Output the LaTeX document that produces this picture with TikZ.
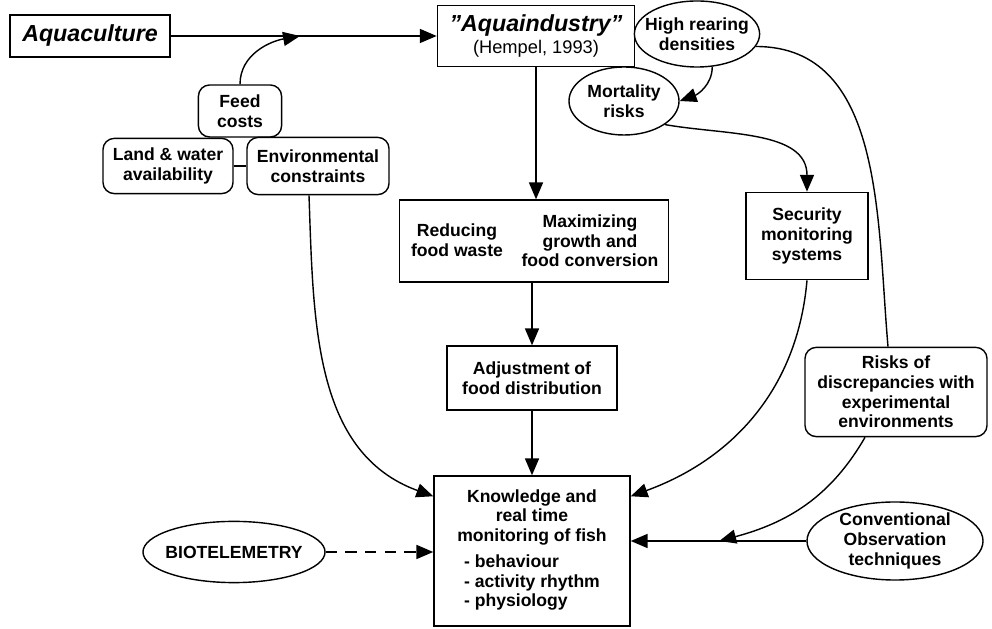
\documentclass[tikz,border=0pt]{standalone}
\usepackage{fontspec}
\setmainfont{Liberation Sans}
\usepackage{tikz}
\usetikzlibrary{arrows.meta, positioning, shapes.geometric, calc}
\newcommand{\diagfont}{\fontsize{12.5}{14}\selectfont\bfseries}
\newcommand{\titlefont}{\fontsize{16.5}{18}\selectfont\bfseries\itshape}
\tikzset{
  plainbox/.style={draw, line width=1pt, align=center, font=\diagfont, inner sep=2pt},
  roundbox/.style={plainbox, rounded corners=8pt},
  ovalbox/.style={draw, ellipse, line width=1pt, align=center, font=\diagfont, inner sep=-8pt},
  titlebox/.style={plainbox, font=\titlefont},
  boxtext/.style={font=\diagfont, align=center, inner sep=0pt},
  flowarrow/.style={-{Triangle[length=12pt, width=10pt]}, line width=1pt},
  dashedarrow/.style={flowarrow, dash pattern=on 8pt off 6pt},
  link/.style={line width=1pt}
}

\begin{document}
\begin{tikzpicture}[x=0.025cm, y=0.025cm]
\useasboundingbox (0,0) rectangle (992,629);

% --- Top row ---
\node[titlebox, minimum width=4cm, minimum height=1.05cm] (aquac) at (90,593) {Aquaculture};
\node[plainbox, minimum width=4.93cm, minimum height=1.53cm] (aquaind) at (536,593)
  {{\titlefont "Aquaindustry"}\\[1pt]{\mdseries\fontsize{13}{15}\selectfont (Hempel, 1993)}};
\node[ovalbox, minimum width=3.13cm, minimum height=1.65cm] (dense) at (697,595) {High rearing\\densities};
\node[ovalbox, minimum width=2.75cm, minimum height=1.7cm] (mort) at (624,528) {Mortality\\risks};

% --- Left cluster: constraints ---
\node[roundbox, minimum width=2.08cm, minimum height=1.3cm] (feed) at (240,518) {Feed\\costs};
\node[roundbox, minimum width=3.25cm, minimum height=1.38cm] (land) at (168,463) {Land \& water\\availability};
\node[roundbox, minimum width=3.55cm, minimum height=1.43cm] (envir) at (318,463) {Environmental\\constraints};

% --- Centre column ---
\node[plainbox, minimum width=6.73cm, minimum height=2.05cm] (waste) at (534,388) {};
\node[boxtext] (wasteL) at (457,389) {Reducing\\food waste};
\node[boxtext] (wasteR) at (590,388) {Maximizing\\growth and\\food conversion};
\node[plainbox, minimum width=4.25cm, minimum height=1.6cm] (adjust) at (532,251) {Adjustment of\\food distribution};
\node[plainbox, minimum width=4.9cm, minimum height=3.75cm] (know) at (532,78)
  {Knowledge and\\real time\\monitoring of fish\\[5pt]
   \begin{tabular}{@{}l@{}}- behaviour\\- activity rhythm\\- physiology\end{tabular}};

% --- Right column ---
\node[plainbox, minimum width=3.05cm, minimum height=2.18cm] (secur) at (807,393) {Security\\monitoring\\systems};
\node[roundbox, minimum width=4.55cm, minimum height=2.23cm] (risks) at (896,237)
  {Risks of\\discrepancies with\\experimental\\environments};
\node[ovalbox, minimum width=4.4cm, minimum height=1.95cm] (conv) at (895,88) {Conventional\\Observation\\techniques};
\node[ovalbox, minimum width=4.55cm, minimum height=1.53cm] (bio) at (234,77) {BIOTELEMETRY};

% --- Join points ---
\coordinate (feedjoin) at (300,593);
\coordinate (convjoin) at ($(conv.west)+(-87,0)$);
\coordinate (knowL) at ($(know.north west)+(0,-21)$);
\coordinate (knowR) at ($(know.north east)+(0,-21)$);

% --- Connectors ---
\draw[flowarrow] (aquac) -- (aquaind);
\draw[flowarrow] (feed.north) to[out=90, in=190] (feedjoin);
\draw[link] (land) -- (envir);
\draw[flowarrow] (aquaind.south) -- (aquaind.south |- waste.north);
\draw[flowarrow] (waste.south -| adjust.north) -- (adjust.north);
\draw[flowarrow] (adjust) -- (know);
\draw[flowarrow] (dense.-65) to[out=-90, in=20] (mort.east);
\draw[flowarrow] (mort.-30) to[out=-10, in=90] (secur.north);
\draw[link] (dense.-12) to[out=0, in=95] ($(risks.north)+(-8,0)$);
\draw[flowarrow] (secur.south) to[out=-95, in=20] (knowR);
\draw[flowarrow] ($(envir.south)+(-9,0)$) to[out=-88, in=160] (knowL);
\draw[flowarrow] ($(risks.south)+(-31,0)$) to[out=-120, in=15] (convjoin);
\draw[flowarrow] (conv.west) -- (conv.west -| know.east);
\draw[dashedarrow] (bio.east) -- (bio.east -| know.west);

\end{tikzpicture}
\end{document}
